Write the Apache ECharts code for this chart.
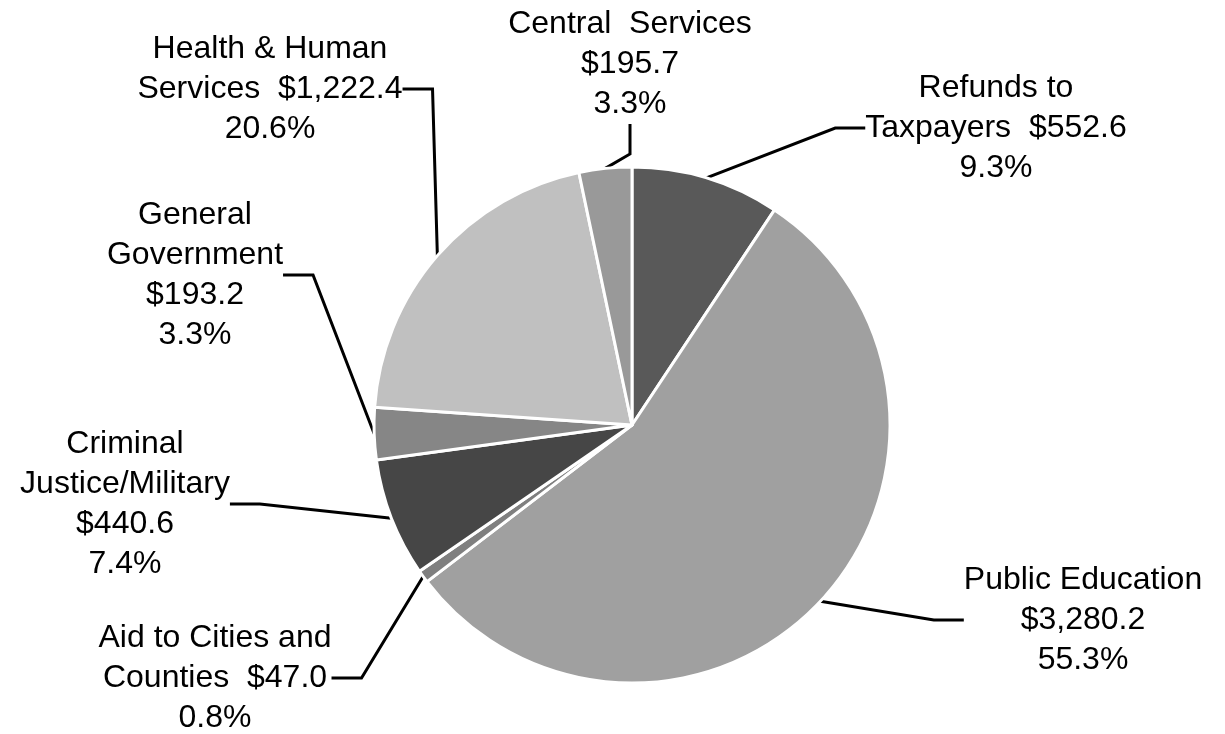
<!DOCTYPE html>
<html>
<head>
<meta charset="utf-8">
<script src="https://cdn.jsdelivr.net/npm/echarts@6/dist/echarts.min.js"></script>
<style>
  html, body { margin: 0; padding: 0; background: #fff; }
  #chart { width: 1225px; height: 734px; }
</style>
</head>
<body>
<div id="chart"></div>
<script>
// data, clockwise from 12 o'clock
const categories = ['Refunds to\nTaxpayers', 'Public Education', 'Aid to Cities and\nCounties',
  'Criminal\nJustice/Military', 'General\nGovernment', 'Health & Human\nServices', 'Central  Services'];
const values = [552.6, 3280.2, 47.0, 440.6, 193.2, 1222.4, 195.7];
const colors = ['#595959', '#a0a0a0', '#7f7f7f', '#464646', '#868686', '#c0c0c0', '#999999'];

// how the value joins the name, and where each label block sits (centre)
const joiners = ['  ', '\n', '  ', '\n', '\n', '  ', '\n'];
const labelPos = [[996, 128], [1083, 620], [215, 678], [125, 504], [195, 275], [270, 89], [630, 64]];

const chart = echarts.init(document.getElementById('chart'));

const money = v => '$' + v.toLocaleString('en-US', { minimumFractionDigits: 1, maximumFractionDigits: 1 });

chart.setOption({
  animation: false,
  series: [{
    type: 'pie',
    center: [632, 425],
    radius: 258,
    startAngle: 90,
    clockwise: true,
    data: values.map((v, i) => ({ name: categories[i], value: v, itemStyle: { color: colors[i] } })),
    itemStyle: { borderColor: '#fff', borderWidth: 3 },
    label: {
      color: '#000',
      fontFamily: 'Liberation Sans',
      fontSize: 32,
      lineHeight: 40,
      align: 'center',
      formatter: p => p.name + joiners[p.dataIndex] + money(p.value) + '\n' + p.percent.toFixed(1) + '%'
    },
    labelLine: {
      show: true,
      lineStyle: { color: '#000', width: 3 }
    },
    labelLayout: p => ({
      x: labelPos[p.dataIndex][0],
      y: labelPos[p.dataIndex][1],
      align: 'center',
      verticalAlign: 'middle'
    })
  }]
});
</script>
</body>
</html>
